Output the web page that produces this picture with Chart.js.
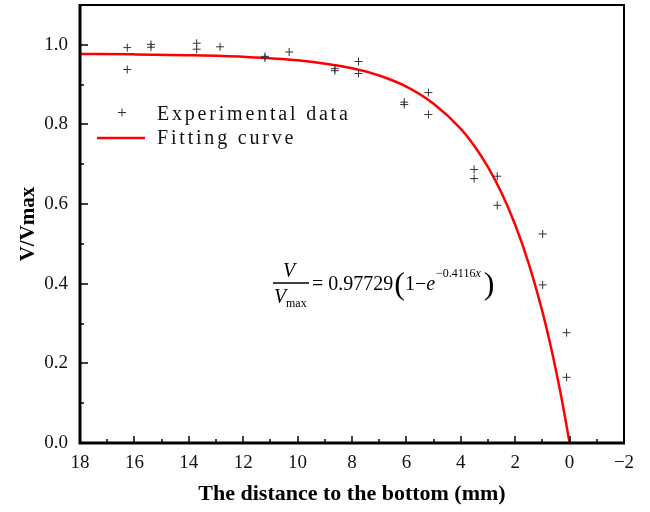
<!DOCTYPE html>
<html lang="en">
<head>
<meta charset="UTF-8">
<title>V/Vmax</title>
<script src="https://cdn.jsdelivr.net/npm/chart.js"></script>
<style>
  html, body { margin: 0; padding: 0; background: #fff; }
  #wrap { width: 650px; height: 512px; }
</style>
</head>
<body>
<div id="wrap"><canvas id="grafico"></canvas></div>
<script>
// experimental data (distance to bottom in mm, V/Vmax)
const expX = [16.26, 16.26, 15.39, 15.39, 13.71, 13.71, 12.85, 11.2, 11.2, 10.31, 8.63, 8.63, 7.76, 7.76, 6.08, 6.08, 5.19, 5.19, 3.51, 3.51, 2.66, 2.66, 0.99, 0.99, 0.11, 0.11];
const expY = [0.993, 0.938, 1.001, 0.994, 1.004, 0.989, 0.995, 0.971, 0.967, 0.982, 0.940, 0.935, 0.958, 0.928, 0.856, 0.850, 0.880, 0.825, 0.687, 0.664, 0.670, 0.597, 0.525, 0.397, 0.277, 0.165];

// fitting curve
const fitX = [0, 0.25, 0.5, 0.75, 1, 1.5, 2, 2.5, 3, 3.5, 4, 5, 6, 7, 8, 10, 12, 14, 16, 18];
const fitY = [0, 0.096, 0.182, 0.260, 0.330, 0.450, 0.548, 0.628, 0.693, 0.746, 0.789, 0.852, 0.895, 0.923, 0.941, 0.961, 0.970, 0.974, 0.976, 0.977];

const xMajor = [18, 16, 14, 12, 10, 8, 6, 4, 2, 0, -2];
const xMinor = [17, 15, 13, 11, 9, 7, 5, 3, 1, -1];
const yMajor = [0, 0.2, 0.4, 0.6, 0.8, 1.0];
const yMinor = [0.1, 0.3, 0.5, 0.7, 0.9];

const serif = '"Liberation Serif", "Times New Roman", serif';

const extras = {
  id: 'extras',
  afterDraw(chart) {
    const ctx = chart.ctx;
    const a = chart.chartArea;
    const xs = chart.scales.x, ys = chart.scales.y;
    ctx.save();
    ctx.strokeStyle = '#000';

    // ticks pointing inward
    ctx.lineWidth = 1.5;
    ctx.beginPath();
    xMajor.forEach(v => { const p = Math.round(xs.getPixelForValue(v)); ctx.moveTo(p, a.bottom); ctx.lineTo(p, a.bottom - 7); });
    xMinor.forEach(v => { const p = Math.round(xs.getPixelForValue(v)); ctx.moveTo(p, a.bottom); ctx.lineTo(p, a.bottom - 4); });
    yMajor.forEach(v => { const p = Math.round(ys.getPixelForValue(v)); ctx.moveTo(a.left, p); ctx.lineTo(a.left + 8, p); });
    yMinor.forEach(v => { const p = Math.round(ys.getPixelForValue(v)); ctx.moveTo(a.left, p); ctx.lineTo(a.left + 4, p); });
    ctx.stroke();

    // frame
    ctx.lineWidth = 2;
    ctx.beginPath();
    ctx.moveTo(a.left, a.top); ctx.lineTo(a.right, a.top); ctx.lineTo(a.right, a.bottom);
    ctx.stroke();
    ctx.lineWidth = 3;
    ctx.beginPath();
    ctx.moveTo(a.left, a.top - 1); ctx.lineTo(a.left, a.bottom); ctx.lineTo(a.right + 1, a.bottom);
    ctx.stroke();

    // legend
    const lx = a.left, ly = a.top;
    ctx.strokeStyle = '#333';
    ctx.lineWidth = 1;
    ctx.beginPath();
    ctx.moveTo(lx + 38, ly + 107.5); ctx.lineTo(lx + 46, ly + 107.5);
    ctx.moveTo(lx + 42, ly + 103.5); ctx.lineTo(lx + 42, ly + 111.5);
    ctx.stroke();
    ctx.strokeStyle = '#ff0000';
    ctx.lineWidth = 2.5;
    ctx.beginPath();
    ctx.moveTo(lx + 17, ly + 133); ctx.lineTo(lx + 65, ly + 133);
    ctx.stroke();
    ctx.fillStyle = '#111';
    ctx.font = '20px ' + serif;
    ctx.letterSpacing = '2.8px';
    ctx.textBaseline = 'alphabetic';
    ctx.textAlign = 'left';
    ctx.fillText('Experimental data', lx + 77, ly + 115);
    ctx.fillText('Fitting curve', lx + 77, ly + 139);
    ctx.letterSpacing = '0px';

    // equation
    const ex = 273, ey = 283;
    ctx.fillStyle = '#000';
    ctx.strokeStyle = '#000';
    ctx.lineWidth = 1.3;
    ctx.beginPath(); ctx.moveTo(ex, ey); ctx.lineTo(ex + 36, ey); ctx.stroke();
    ctx.font = 'italic 20px ' + serif;
    ctx.textAlign = 'center';
    ctx.fillText('V', ex + 16, ey - 6);
    ctx.textAlign = 'left';
    ctx.fillText('V', ex + 1, ey + 20);
    ctx.font = '12px ' + serif;
    ctx.fillText('max', ex + 13, ey + 24);
    let cx = ex + 39;
    ctx.font = '20px ' + serif;
    const main = '= 0.97729';
    ctx.fillText(main, cx, ey + 7);
    cx += ctx.measureText(main).width + 1;
    ctx.font = '32px ' + serif;
    ctx.fillText('(', cx, ey + 11);
    cx += ctx.measureText('(').width;
    ctx.font = '20px ' + serif;
    ctx.fillText('1\u2212', cx, ey + 7);
    cx += ctx.measureText('1\u2212').width;
    ctx.font = 'italic 20px ' + serif;
    ctx.fillText('e', cx, ey + 7);
    cx += ctx.measureText('e').width + 1;
    ctx.font = '12px ' + serif;
    ctx.fillText('\u22120.4116', cx, ey - 6);
    cx += ctx.measureText('\u22120.4116').width;
    ctx.font = 'italic 12px ' + serif;
    ctx.fillText('x', cx, ey - 6);
    cx += ctx.measureText('x').width + 3;
    ctx.font = '32px ' + serif;
    ctx.fillText(')', cx, ey + 11);

    ctx.restore();
  }
};

new Chart(document.getElementById('grafico'), {
  type: 'scatter',
  data: {
    datasets: [
      {
        label: 'Experimental data',
        data: expX.map((x, i) => ({ x: x, y: expY[i] })),
        pointStyle: 'cross',
        pointRadius: 4,
        pointHoverRadius: 4,
        borderColor: '#333',
        borderWidth: 1,
        showLine: false
      },
      {
        label: 'Fitting curve',
        data: fitX.map((x, i) => ({ x: x, y: fitY[i] })),
        showLine: true,
        borderColor: '#ff0000',
        borderWidth: 2.5,
        pointRadius: 0,
        cubicInterpolationMode: 'monotone',
        fill: false
      }
    ]
  },
  options: {
    responsive: true,
    maintainAspectRatio: false,
    animation: false,
    layout: { padding: { left: 0, right: 26, top: 5, bottom: 0 } },
    plugins: { legend: { display: false }, tooltip: { enabled: false } },
    scales: {
      x: {
        type: 'linear',
        reverse: true,
        min: -2,
        max: 18,
        grid: { display: false },
        border: { display: false },
        afterFit: s => { s.height = 69; s.paddingLeft = 0; s.paddingRight = 0; },
        afterBuildTicks: s => { s.ticks = xMajor.map(v => ({ value: v })); },
        ticks: {
          color: '#111',
          font: { family: serif, size: 19 },
          padding: 1,
          maxRotation: 0,
          callback: v => v < 0 ? '\u2212' + Math.abs(v) : String(v)
        },
        title: {
          display: true,
          text: 'The distance to the bottom (mm)',
          color: '#000',
          font: { family: serif, size: 22, weight: 'bold' },
          padding: { top: 0, bottom: 4 }
        }
      },
      y: {
        min: 0,
        max: 1.1,
        grid: { display: false },
        border: { display: false },
        afterFit: s => { s.width = 80; s.paddingTop = 0; s.paddingBottom = 0; },
        afterBuildTicks: s => { s.ticks = yMajor.map(v => ({ value: v })); },
        ticks: {
          color: '#111',
          font: { family: serif, size: 19 },
          padding: 4,
          callback: v => v.toFixed(1)
        },
        title: {
          display: true,
          text: 'V/Vmax',
          color: '#000',
          font: { family: serif, size: 21, weight: 'bold' },
          padding: { top: 16, bottom: 0 }
        }
      }
    }
  },
  plugins: [extras]
});
</script>
</body>
</html>
